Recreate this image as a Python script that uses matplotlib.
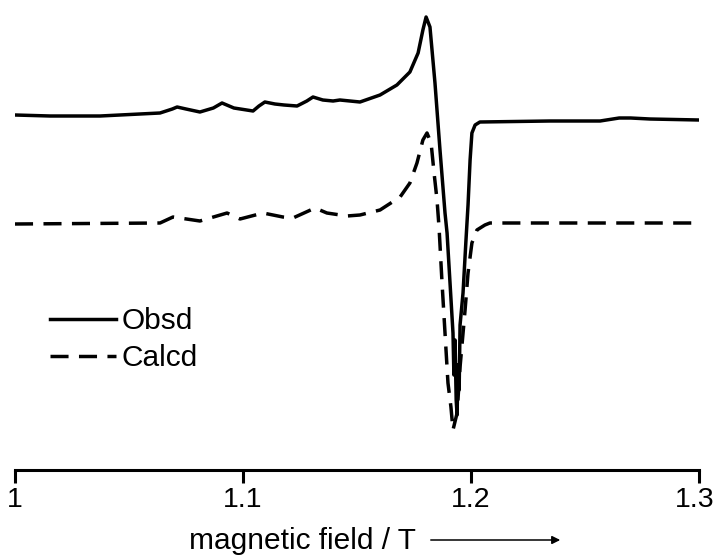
import matplotlib.pyplot as plt
from matplotlib.transforms import ScaledTranslation

plt.rcParams['font.family'] = ['Liberation Sans', 'DejaVu Sans']

# magnetic field (T) and signal (arb. units)
obsd_field = [1.0000, 1.0154, 1.0373, 1.0548, 1.0636, 1.0690, 1.0711, 1.0750, 1.0811,
              1.0870, 1.0908, 1.0960, 1.1044, 1.1070, 1.1096, 1.1140, 1.1180, 1.1237,
              1.1280, 1.1307, 1.1350, 1.1395, 1.1425, 1.1513, 1.1601, 1.1675, 1.1732,
              1.1768, 1.1789, 1.1803, 1.1820, 1.1842, 1.1864, 1.1886, 1.1895, 1.1908,
              1.1921, 1.1925, 1.1930, 1.1935, 1.1939, 1.1943, 1.1948, 1.1952, 1.1965,
              1.1978, 1.1987, 1.1996, 1.2004, 1.2018, 1.2039, 1.2346, 1.2566, 1.2650,
              1.2700, 1.2785, 1.3000]
obsd_signal = [3.55, 3.54, 3.54, 3.56, 3.57, 3.61, 3.63, 3.61, 3.58,
               3.62, 3.67, 3.62, 3.59, 3.64, 3.68, 3.66, 3.65, 3.64,
               3.69, 3.73, 3.70, 3.69, 3.70, 3.68, 3.75, 3.85, 3.98,
               4.17, 4.40, 4.53, 4.43, 3.87, 3.20, 2.57, 2.37, 1.87,
               1.37, 0.95, 1.30, 0.70, 0.55, 1.05, 0.80, 1.45, 1.77,
               2.30, 2.65, 3.10, 3.37, 3.45, 3.48, 3.49, 3.49, 3.52,
               3.52, 3.51, 3.50]

calcd_field = [1.0000, 1.0636, 1.0693, 1.0811, 1.0930, 1.0987, 1.1088, 1.1175, 1.1219,
               1.1316, 1.1368, 1.1456, 1.1513, 1.1601, 1.1689, 1.1732, 1.1763, 1.1789,
               1.1807, 1.1825, 1.1838, 1.1851, 1.1860, 1.1873, 1.1886, 1.1899, 1.1912,
               1.1921, 1.1939, 1.1952, 1.1974, 1.1987, 1.2004, 1.2026, 1.2061, 1.2083,
               1.3000]
calcd_signal = [2.46, 2.47, 2.53, 2.49, 2.57, 2.51, 2.57, 2.53, 2.52,
                2.62, 2.57, 2.54, 2.55, 2.60, 2.73, 2.87, 3.07, 3.30,
                3.37, 3.27, 2.97, 2.70, 2.42, 1.87, 1.37, 0.87, 0.63,
                0.40, 0.57, 1.03, 1.60, 1.97, 2.27, 2.40, 2.45, 2.47,
                2.47]

tick_values = [1.0, 1.1, 1.2, 1.3]
tick_labels = ['1', '1.1', '1.2', '1.3']

W, H = 718, 557
fig = plt.figure(figsize=(W / 100, H / 100), dpi=100)
ax = fig.add_axes([15 / W, 87 / H, 684 / W, 470 / H])

ax.plot(obsd_field, obsd_signal, color='black', lw=2.5, label='Obsd')
ax.plot(calcd_field, calcd_signal, color='black', lw=2.5, dashes=(5.2, 3.0), label='Calcd')

ax.set_xlim(1.0, 1.3)
ax.set_ylim(0, 4.70)
for side in ['top', 'left', 'right']:
    ax.spines[side].set_visible(False)
ax.spines['bottom'].set_linewidth(2.2)
ax.set_yticks([])
ax.set_xticks(tick_values)
ax.set_xticklabels(tick_labels)
ax.tick_params(axis='x', direction='out', length=9.5, width=2.2, labelsize=20.5, pad=3)

# last label sits against the right edge, nudge it in a little
last = ax.get_xticklabels()[-1]
last.set_transform(last.get_transform() + ScaledTranslation(-3 / 72, 0, fig.dpi_scale_trans))

ax.legend(loc='upper left', bbox_to_anchor=(50 / W, 1 - 307 / H), bbox_transform=fig.transFigure,
          frameon=False, fontsize=21.5, handlelength=2.2, handletextpad=0.2, labelspacing=0.3,
          borderpad=0, borderaxespad=0)

fig.text(302 / W, 1 - 541 / H, 'magnetic field / T', ha='center', va='center', fontsize=21.5)
ax.annotate('', xy=(563 / W, 1 - 540 / H), xytext=(428 / W, 1 - 540 / H),
            xycoords='figure fraction', textcoords='figure fraction',
            arrowprops=dict(arrowstyle='-|>', lw=1.1, color='black', mutation_scale=12))

fig.savefig('out.png', dpi=100)
